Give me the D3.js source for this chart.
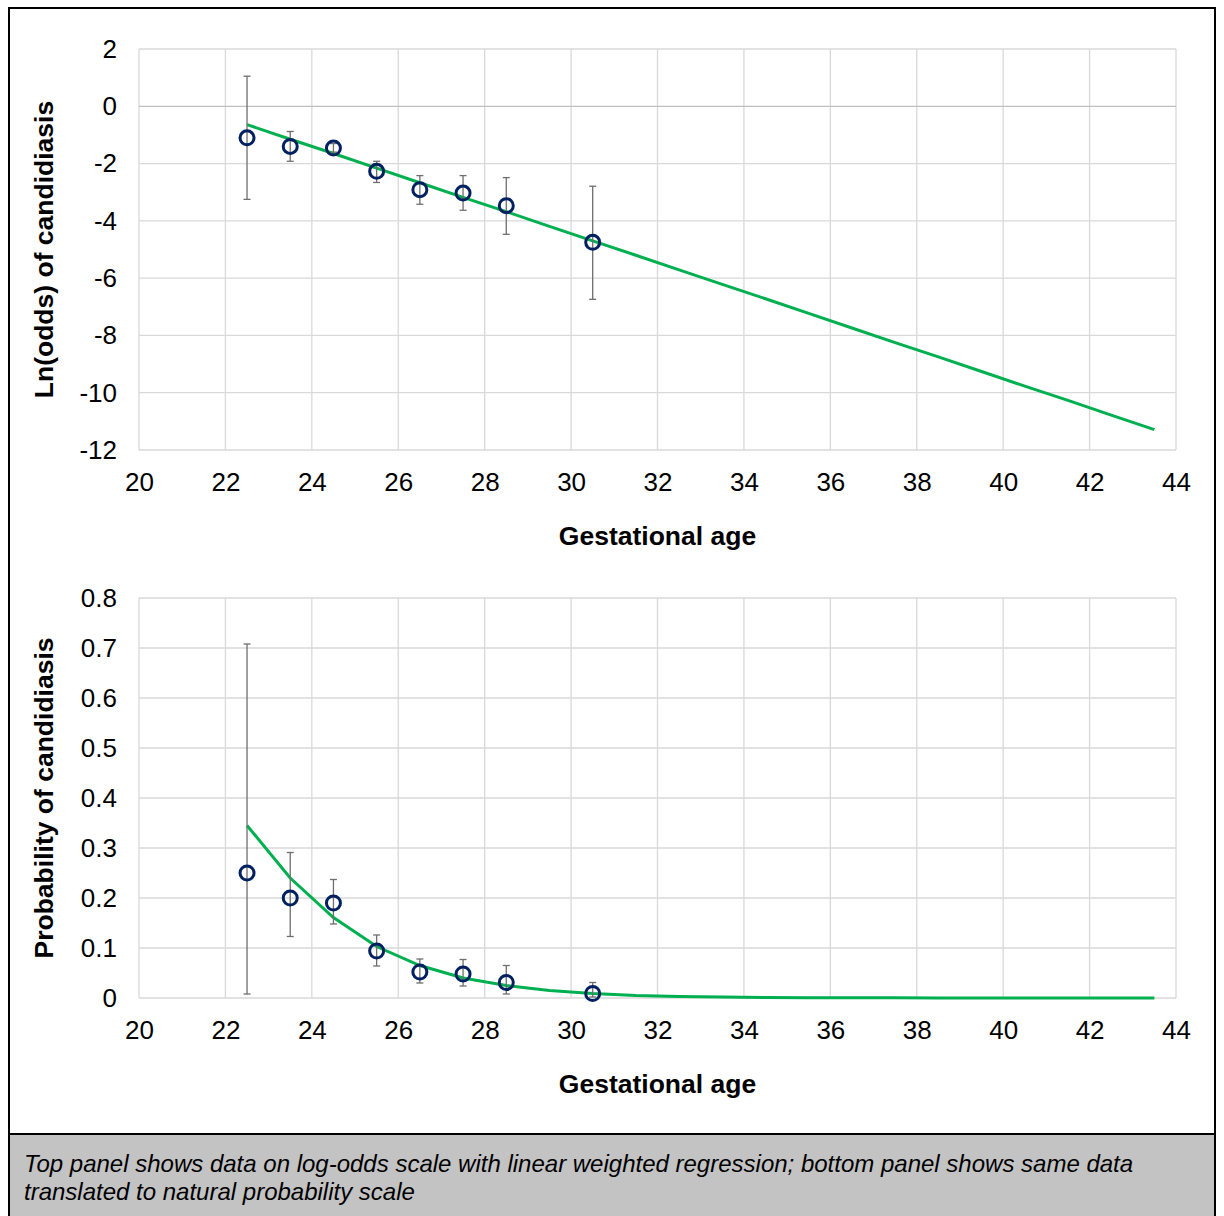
<!DOCTYPE html>
<html>
<head>
<meta charset="utf-8">
<script src="https://cdn.jsdelivr.net/npm/d3@7"></script>
<style>
  body { margin: 0; background: #fff; }
  text { font-family: "Liberation Sans", Arial, sans-serif; }
</style>
</head>
<body>
<div id="wrapper"></div>
<script>
// DATA
const ages = [22.5, 23.5, 24.5, 25.5, 26.5, 27.5, 28.5, 30.5]

// top panel: ln(odds) with error bars
const logOdds = [-1.1, -1.4, -1.46, -2.27, -2.91, -3.03, -3.47, -4.75]
const logOddsLow = [-3.25, -1.92, -1.6, -2.66, -3.42, -3.63, -4.47, -6.74]
const logOddsHigh = [1.05, -0.88, -1.3, -1.92, -2.42, -2.42, -2.49, -2.79]

// bottom panel: probability with error bars
const prob = [0.25, 0.2, 0.19, 0.094, 0.052, 0.048, 0.031, 0.009]
const probLow = [0.008, 0.123, 0.148, 0.064, 0.03, 0.024, 0.008, 0.002]
const probHigh = [0.708, 0.291, 0.237, 0.126, 0.078, 0.077, 0.065, 0.031]

// weighted regression fit
const fitAges = [22.5, 23.5, 24.5, 25.5, 26.5, 27.5, 28.5, 29.5, 30.5, 31.5, 32.5,
  33.5, 34.5, 35.5, 36.5, 37.5, 38.5, 39.5, 40.5, 41.5, 42.5, 43.5]
const fitLogOdds = [-0.64, -1.15, -1.65, -2.16, -2.67, -3.18, -3.68, -4.19, -4.7, -5.2, -5.71,
  -6.22, -6.72, -7.23, -7.74, -8.25, -8.75, -9.26, -9.77, -10.27, -10.78, -11.29]
const fitProb = [0.345, 0.24, 0.161, 0.103, 0.065, 0.04, 0.025, 0.015, 0.009, 0.005, 0.003,
  0.002, 0.001, 0.0007, 0.0004, 0.0003, 0.0002, 0.0001, 0.0001, 0, 0, 0]

const xTicks = [20, 22, 24, 26, 28, 30, 32, 34, 36, 38, 40, 42, 44]
const topYTicks = [2, 0, -2, -4, -6, -8, -10, -12]
const bottomYTicks = [0.8, 0.7, 0.6, 0.5, 0.4, 0.3, 0.2, 0.1, 0]

const caption = [
  'Top panel shows data on log-odds scale with linear weighted regression; bottom panel shows same data',
  'translated to natural probability scale'
]

const width = 1224
const height = 1216

const wrapper = d3.select('#wrapper')
  .append('svg')
  .attr('width', width)
  .attr('height', height)

// frame and caption box
wrapper.append('rect')
  .attr('x', 9).attr('y', 8)
  .attr('width', 1206).attr('height', 1220)
  .attr('fill', 'white')
  .attr('stroke', 'black')
  .attr('stroke-width', 2)

wrapper.append('rect')
  .attr('x', 9).attr('y', 1134)
  .attr('width', 1206).attr('height', 100)
  .attr('fill', '#c3c3c3')
  .attr('stroke', 'black')
  .attr('stroke-width', 2)

wrapper.selectAll('.caption')
  .data(caption)
  .join('text')
  .attr('class', 'caption')
  .attr('x', 24)
  .attr('y', (d, i) => 1172 + i * 28)
  .style('font-size', '24px')
  .style('font-style', 'italic')
  .attr('fill', 'black')
  .text(d => d)

function drawPanel(cfg) {
  const dims = { left: 139, right: 1176, top: cfg.top, bottom: cfg.bottom }

  const xScale = d3.scaleLinear()
    .domain([20, 44])
    .range([dims.left, dims.right])

  const yScale = d3.scaleLinear()
    .domain(cfg.yDomain)
    .range([dims.bottom, dims.top])

  const g = wrapper.append('g')

  // gridlines
  g.append('g')
    .selectAll('line')
    .data(xTicks)
    .join('line')
    .attr('x1', d => xScale(d)).attr('x2', d => xScale(d))
    .attr('y1', dims.top).attr('y2', dims.bottom)
    .attr('stroke', '#d9d9d9')
    .attr('stroke-width', 1.3)

  g.append('g')
    .selectAll('line')
    .data(cfg.yTicks)
    .join('line')
    .attr('x1', dims.left).attr('x2', dims.right)
    .attr('y1', d => yScale(d)).attr('y2', d => yScale(d))
    .attr('stroke', d => d === 0 && cfg.yDomain[0] < 0 ? '#bfbfbf' : '#d9d9d9')
    .attr('stroke-width', 1.3)

  // axes (labels only)
  const yAxis = g.append('g')
    .attr('transform', `translate(${dims.left - 22},0)`)
    .call(d3.axisLeft(yScale).tickValues(cfg.yTicks).tickSize(0).tickFormat(cfg.yFormat))
  yAxis.select('.domain').remove()
  yAxis.selectAll('text')
    .attr('x', 0)
    .attr('fill', 'black')
    .style('font-size', '26px')
    .style('font-family', '"Liberation Sans", Arial, sans-serif')

  const xAxis = g.append('g')
    .attr('transform', `translate(0,${dims.bottom + 23})`)
    .call(d3.axisBottom(xScale).tickValues(xTicks).tickSize(0))
  xAxis.select('.domain').remove()
  xAxis.selectAll('text')
    .attr('y', 0)
    .attr('dy', '0.71em')
    .attr('fill', 'black')
    .style('font-size', '26px')
    .style('font-family', '"Liberation Sans", Arial, sans-serif')

  // axis titles
  g.append('text')
    .attr('x', (dims.left + dims.right) / 2)
    .attr('y', dims.bottom + 95)
    .attr('text-anchor', 'middle')
    .style('font-size', '26.5px')
    .style('font-weight', 'bold')
    .text('Gestational age')

  g.append('text')
    .attr('transform', `translate(53,${(dims.top + dims.bottom) / 2}) rotate(-90)`)
    .attr('text-anchor', 'middle')
    .style('font-size', '26.5px')
    .style('font-weight', 'bold')
    .text(cfg.yTitle)

  // fit line
  const lineGenerator = d3.line()
    .x((d, i) => xScale(fitAges[i]))
    .y(d => yScale(d))

  g.append('path')
    .attr('d', lineGenerator(cfg.fit))
    .attr('fill', 'none')
    .attr('stroke', '#00b050')
    .attr('stroke-width', 3)

  // error bars
  const bars = g.append('g')
    .selectAll('g')
    .data(ages)
    .join('g')
    .attr('stroke', '#6e6e6e')
    .attr('stroke-width', 1.3)

  bars.append('line')
    .attr('x1', d => xScale(d)).attr('x2', d => xScale(d))
    .attr('y1', (d, i) => yScale(cfg.low[i]))
    .attr('y2', (d, i) => yScale(cfg.high[i]))

  bars.append('line')
    .attr('x1', d => xScale(d) - 3.5).attr('x2', d => xScale(d) + 3.5)
    .attr('y1', (d, i) => yScale(cfg.low[i]))
    .attr('y2', (d, i) => yScale(cfg.low[i]))

  bars.append('line')
    .attr('x1', d => xScale(d) - 3.5).attr('x2', d => xScale(d) + 3.5)
    .attr('y1', (d, i) => yScale(cfg.high[i]))
    .attr('y2', (d, i) => yScale(cfg.high[i]))

  // points
  g.append('g')
    .selectAll('circle')
    .data(ages)
    .join('circle')
    .attr('cx', d => xScale(d))
    .attr('cy', (d, i) => yScale(cfg.values[i]))
    .attr('r', 7)
    .attr('fill', 'none')
    .attr('stroke', '#002060')
    .attr('stroke-width', 3)
}

drawPanel({
  top: 49, bottom: 450,
  yDomain: [-12, 2], yTicks: topYTicks, yFormat: d => String(d),
  yTitle: 'Ln(odds) of candidiasis',
  values: logOdds, low: logOddsLow, high: logOddsHigh, fit: fitLogOdds
})

drawPanel({
  top: 598, bottom: 998,
  yDomain: [0, 0.8], yTicks: bottomYTicks, yFormat: d => d === 0 ? '0' : d3.format('.1f')(d),
  yTitle: 'Probability of candidiasis',
  values: prob, low: probLow, high: probHigh, fit: fitProb
})
</script>
</body>
</html>
